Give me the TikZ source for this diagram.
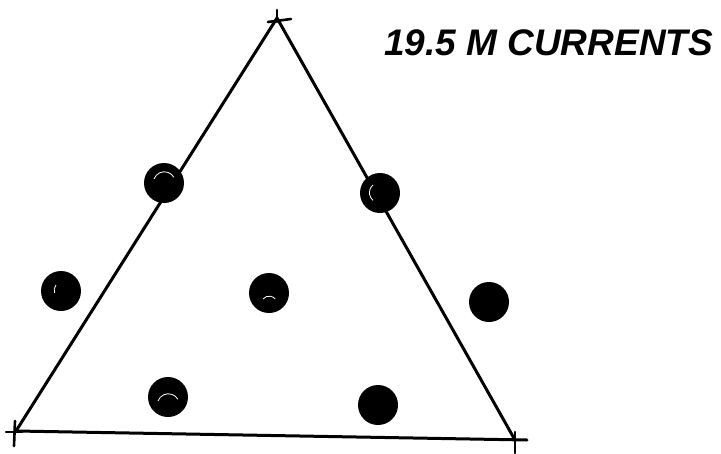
\documentclass[tikz,border=0pt]{standalone}
\usepackage{fontspec}
\setmainfont{Liberation Sans}
\begin{document}
\begin{tikzpicture}[x=1pt,y=-1pt,
  edge/.style={line width=3pt,line cap=round},
  tick/.style={line width=2.6pt,line cap=round},
  blob/.style={circle,fill=black,minimum size=40pt,inner sep=0pt},
  ring/.style={white,line width=0.8pt},
  lbl/.style={font=\fontsize{37}{37}\selectfont\bfseries\itshape,inner sep=0pt}]
\useasboundingbox (0,0) rectangle (721,453);
\coordinate (T) at (277,18);
\coordinate (BL) at (16,431);
\coordinate (BR) at (515,440);
\coordinate (BRx) at (527,440);
\draw[edge] (BL) -- (T) -- (BR);
\draw[edge] (BL) -- (BRx);
% ticks at vertices
\draw[tick] (268,22) -- (291,19);
\draw[tick] (277,10) -- (277,22);
\draw[tick] (15,421) -- (14,446);
\draw[tick] (6,432) -- (22,432);
\draw[tick] (515,432) -- (515,453);
% dots
\node[blob] (d1) at (164,183) {};
\node[blob] (d2) at (380,193) {};
\node[blob] (d3) at (61,291) {};
\node[blob] (d4) at (269,293) {};
\node[blob] (d5) at (489,302) {};
\node[blob] (d6) at (168,397) {};
\node[blob] (d7) at (378,405) {};
\draw[ring] (d1) ++(-10,-4) arc (200:330:11);
\draw[ring] (d2) ++(-7,-8) arc (230:130:10);
\draw[ring] (d4) ++(-6,6) arc (220:320:8);
\draw[ring] (d6) ++(-10,4) arc (200:330:11);
\draw[ring] (d3) ++(-5,-6) arc (220:160:8);
% label
\node[lbl,anchor=west] (title) at (384,43) {19.5 M CURRENTS};
\end{tikzpicture}
\end{document}
